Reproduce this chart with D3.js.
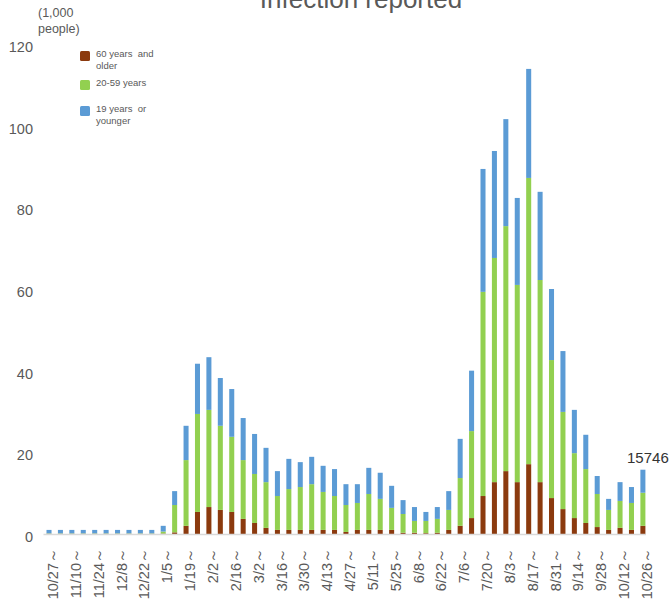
<!DOCTYPE html>
<html>
<head>
<meta charset="utf-8">
<script src="https://cdn.jsdelivr.net/npm/d3@7"></script>
<style>
  html, body { margin: 0; padding: 0; background: #fff; }
  svg { display: block; }
  text { font-family: "Liberation Sans", Arial, sans-serif; }
</style>
</head>
<body>
<svg id="chart" width="670" height="615"></svg>
<script>
// ---- data (thousand people) ----
const weeks = ["10/27","11/3","11/10","11/17","11/24","12/1","12/8","12/15","12/22","12/29",
  "1/5","1/12","1/19","1/26","2/2","2/9","2/16","2/23","3/2","3/9","3/16","3/23","3/30",
  "4/6","4/13","4/20","4/27","5/4","5/11","5/18","5/25","6/1","6/8","6/15","6/22","6/29",
  "7/6","7/13","7/20","7/27","8/3","8/10","8/17","8/24","8/31","9/7","9/14","9/21","9/28",
  "10/5","10/12","10/19","10/26"];
const age60plus = [0.05,0.05,0.05,0.05,0.05,0.05,0.05,0.05,0.05,0.05,
  0.1,0.4,2.0,5.4,6.6,5.9,5.4,3.7,2.7,1.5,1.0,1.0,1.0,
  1.0,1.0,1.0,0.5,1.0,1.0,1.0,1.0,0.3,0.3,0.2,0.3,1.0,
  2.0,3.9,9.3,12.7,15.4,12.7,17.1,12.7,8.8,6.1,3.9,2.7,1.7,
  1.0,1.5,1.0,2.0];
const age20to59 = [0.1,0.1,0.1,0.1,0.1,0.1,0.1,0.1,0.1,0.1,
  0.5,6.7,16.1,24.0,23.8,20.6,18.4,14.4,12.0,11.2,8.3,10.0,10.5,
  11.2,9.3,8.3,6.6,6.6,8.8,7.6,5.4,4.6,2.9,3.0,3.4,4.9,
  11.7,21.3,50.0,54.9,60.0,48.3,70.1,49.5,33.8,23.8,15.9,13.2,8.1,
  4.9,6.6,6.6,8.1];
const age19under = [0.85,0.85,0.85,0.85,0.85,0.85,0.85,0.85,0.85,0.85,
  1.4,3.4,8.4,12.3,12.9,11.7,11.7,10.3,9.8,8.4,6.1,7.4,6.1,
  6.7,6.4,6.6,5.1,4.6,6.4,6.4,5.4,3.4,3.4,2.2,2.9,4.6,
  9.6,14.8,30.1,26.2,26.2,21.3,26.7,21.6,17.4,14.9,10.6,8.4,4.4,
  2.7,4.6,3.9,5.646];
const yTicks = [0,20,40,60,80,100,120];
const seriesKeys = ["old","mid","young"];
const seriesNames = [["60 years  and","older"],["20-59 years"],["19 years  or","younger"]];
const seriesColors = ["#8B3A0E","#92D050","#5B9BD5"];
const lastLabel = "15746";

// ---- build table ----
const rows = weeks.map((w,i)=>({week:w, old:age60plus[i], mid:age20to59[i], young:age19under[i]}));
const stacked = d3.stack().keys(seriesKeys)(rows);

const svg = d3.select("#chart");
const x = d3.scaleBand().domain(weeks).range([43.3, 648.6]).paddingInner(0.56).paddingOuter(0.28);
const y = d3.scaleLinear().domain([0,120]).range([534, 44]);
const color = d3.scaleOrdinal().domain(seriesKeys).range(seriesColors);

// title (cut off at top)
svg.append("text").attr("x", 361).attr("y", 8).attr("text-anchor","middle")
  .attr("font-size", 26).attr("fill", "#595959").text("Infection reported");

// unit label
svg.append("text").attr("x", 38).attr("y", 17).attr("font-size", 12.5).attr("fill","#595959").text("(1,000");
svg.append("text").attr("x", 38).attr("y", 33).attr("font-size", 12.5).attr("fill","#595959").text("people)");

// y labels
const yAxis = d3.axisLeft(y).tickValues(yTicks).tickSize(0).tickPadding(0);
const gy = svg.append("g").attr("transform","translate(33,3)").call(yAxis);
gy.select(".domain").remove();
gy.selectAll("text").attr("font-size", 14.5).attr("fill","#595959")
  .attr("font-family","'Liberation Sans', Arial, sans-serif");

// bars
svg.append("g").selectAll("g").data(stacked).join("g")
  .attr("fill", d=>color(d.key))
  .selectAll("rect").data(d=>d).join("rect")
  .attr("x", d=>x(d.data.week))
  .attr("width", x.bandwidth())
  .attr("y", d=>y(d[1]))
  .attr("height", d=>Math.max(0, y(d[0]) - y(d[1])));

// x axis
const xAxis = d3.axisBottom(x).tickValues(weeks.filter((w,i)=>i%2===0))
  .tickSize(0).tickFormat(d=>d+"～");
const gx = svg.append("g").attr("transform","translate(0,534)").call(xAxis);
gx.select(".domain").attr("stroke","#D9D9D9").attr("stroke-width",1.5)
  .attr("d","M43.5,0.5H646");
gx.selectAll("text")
  .attr("font-size", 14.5).attr("fill","#595959")
  .attr("font-family","'Liberation Sans', Arial, sans-serif")
  .attr("text-anchor","end")
  .attr("transform","translate(4,14) rotate(-90)")
  .attr("x", 0).attr("y", 0).attr("dy","0.35em");

// legend
const leg = svg.append("g");
const legY = [51, 80, 106];
seriesKeys.forEach((k,i)=>{
  leg.append("rect").attr("x",80).attr("y",legY[i]).attr("width",10).attr("height",10)
    .attr("rx",1.5).attr("fill",seriesColors[i]);
  seriesNames[i].forEach((t,j)=>{
    leg.append("text").attr("x",96).attr("y",legY[i]+6+j*11.5).attr("font-size",9.5)
      .attr("fill","#595959").attr("xml:space","preserve").style("white-space","pre").text(t);
  });
});

// last bar label
const last = rows[rows.length-1];
svg.append("text")
  .attr("x", x(last.week) + x.bandwidth()/2 + 5)
  .attr("y", y(last.old+last.mid+last.young) - 7)
  .attr("text-anchor","middle").attr("font-size",15).attr("fill","#333333")
  .text(lastLabel);
</script>
</body>
</html>
